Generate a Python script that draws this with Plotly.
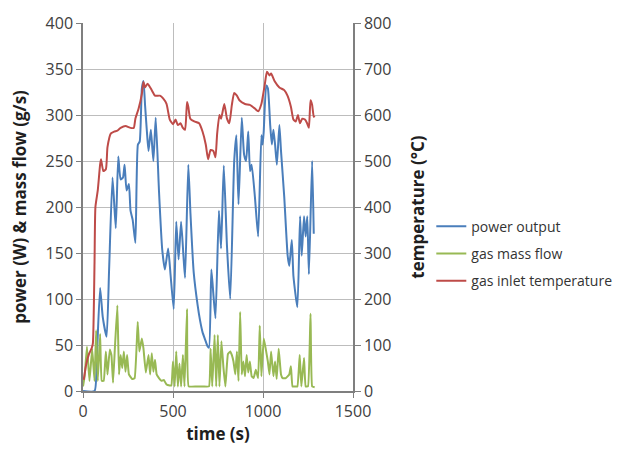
import plotly.graph_objects as go

# ---- data ----
power_t = [0, 64, 76, 95, 110, 131, 145, 164, 182, 196, 209, 222, 231, 242, 255, 264, 276, 291,
           305, 315, 327, 336, 345, 355, 364, 377, 391, 404, 422, 440, 455, 473, 487, 504, 518,
           531, 545, 558, 567, 585, 597, 615, 637, 650, 664, 680, 691, 700, 713, 724, 736, 755,
           767, 782, 800, 818, 840, 852, 864, 882, 895, 906, 918, 928, 937, 955, 973, 991, 998,
           1004, 1018, 1027, 1040, 1049, 1058, 1067, 1077, 1091, 1100, 1118, 1137, 1146, 1160,
           1169, 1191, 1206, 1215, 1228, 1237, 1246, 1255, 1273, 1282]
power_w = [0, 0, 33, 112, 80, 59, 132, 232, 177, 255, 230, 232, 246, 218, 225, 196, 186, 161,
           268, 271, 329, 337, 310, 282, 261, 284, 250, 297, 218, 154, 132, 155, 125, 89, 184,
           143, 184, 147, 123, 246, 193, 129, 93, 77, 64, 55, 49, 47, 132, 106, 79, 196,
           155, 245, 157, 100, 250, 278, 203, 297, 257, 250, 282, 239, 246, 211, 168, 278, 268,
           282, 332, 329, 289, 268, 284, 268, 246, 289, 261, 211, 147, 136, 164,
           125, 91, 190, 147, 190, 168, 190, 127, 250, 171]

flow_t = [0, 9, 22, 36, 51, 64, 73, 82, 95, 104, 115, 127, 136, 149, 158, 167, 178, 191, 200,
          209, 218, 227, 236, 245, 255, 273, 287, 304, 313, 327, 336, 349, 364, 373, 382, 391,
          400, 409, 422, 436, 449, 464, 482, 491, 500, 509, 518, 527, 536, 545, 555, 564, 578,
          587, 630, 669, 700, 709, 718, 731, 740, 749, 758, 769, 780, 791, 805, 818, 827, 836,
          846, 855, 864, 873, 882, 891, 900, 909, 918, 927, 937, 948, 960, 973, 982, 991, 1004,
          1015, 1027, 1036, 1045, 1058, 1067, 1076, 1087, 1100, 1109, 1127, 1146, 1155, 1164,
          1178, 1191, 1204, 1213, 1228, 1237, 1250, 1264, 1273, 1287]
flow_gs = [5, 16, 48, 11, 46, 11, 66, 11, 62, 11, 11, 43, 18, 45, 39, 9, 50, 93, 18,
           39, 25, 43, 21, 39, 18, 13, 14, 75, 43, 57, 46, 20, 39, 18, 41, 21,
           34, 18, 14, 11, 12, 7, 6, 6, 32, 5, 43, 5, 30, 5, 39, 5, 89,
           5, 5, 5, 5, 46, 5, 61, 5, 61, 5, 54, 26, 5, 40, 43, 39, 32,
           18, 43, 11, 86, 18, 32, 16, 39, 20, 32, 16, 14, 23, 14, 71, 16, 57,
           46, 32, 18, 43, 16, 32, 13, 46, 18, 14, 14, 18, 27, 5,
           5, 5, 39, 5, 36, 5, 5, 84, 5, 4]

temp_t = [4, 18, 33, 49, 55, 64, 69, 82, 95, 100, 113, 127, 136, 155, 173, 191, 209, 236, 264,
          282, 291, 309, 327, 336, 345, 358, 367, 382, 400, 427, 445, 464, 482, 500, 514, 527,
          542, 555, 567, 578, 585, 596, 618, 645, 664, 682, 695, 709, 724, 736, 745, 758, 767,
          785, 800, 813, 827, 840, 855, 869, 900, 927, 955, 973, 991, 1009, 1022, 1036, 1045,
          1064, 1091, 1118, 1136, 1155, 1169, 1182, 1194, 1205, 1218, 1233, 1245, 1255, 1264,
          1273, 1282, 1287]
temp_c = [24, 58, 80, 94, 104, 278, 400, 436, 492, 504, 478, 482, 530, 560, 564, 566, 572, 576,
          572, 572, 592, 614, 646, 672, 660, 668, 664, 654, 642, 642, 636, 624, 590, 580, 590,
          578, 582, 572, 568, 628, 618, 592, 586, 582, 564, 536, 504, 524, 522, 508, 558, 600,
          592, 624, 592, 582, 622, 648, 642, 632, 624, 622, 614, 608, 624, 664, 694, 686, 690,
          674, 660, 654, 642, 618, 590, 586, 600, 582, 592, 590, 582, 572, 632, 622, 596, 598]

names = ["power output", "gas mass flow", "gas inlet temperature"]
colors = ["#4A7EBB", "#98B954", "#BE4B48"]

FONT = "Open Sans"
TICKC = "#404040"
TITLEC = "#1F1F1F"

fig = go.Figure()
fig.add_trace(go.Scatter(x=power_t, y=power_w, mode="lines", name=names[0],
                         line=dict(color=colors[0], width=2, shape="spline", smoothing=0.5),
                         legendgroup="a"))
fig.add_trace(go.Scatter(x=flow_t, y=flow_gs, mode="lines", name=names[1],
                         line=dict(color=colors[1], width=2, shape="spline", smoothing=0.3),
                         legendgroup="b"))
fig.add_trace(go.Scatter(x=temp_t, y=temp_c, mode="lines", name=names[2], yaxis="y2",
                         line=dict(color=colors[2], width=2, shape="spline", smoothing=0.5),
                         legendgroup="c"))

fig.update_layout(
    width=629, height=456,
    margin=dict(l=83, r=272, t=17, b=65),
    paper_bgcolor="white", plot_bgcolor="white",
    font=dict(family=FONT, size=16, color=TICKC),
    showlegend=True,
    legend=dict(x=1.29, y=0.49, xanchor="left", yanchor="top",
                font=dict(family=FONT, size=14, color="#333"),
                itemwidth=30, tracegroupgap=6, bgcolor="rgba(0,0,0,0)"),
    xaxis=dict(range=[0, 1500], dtick=500, tick0=0,
               showgrid=True, gridcolor="#BDBDBD", gridwidth=1,
               showline=True, linecolor="#7F7F7F", linewidth=1.5,
               ticks="outside", ticklen=5, tickcolor="#7F7F7F",
               tickfont=dict(family=FONT, size=16, color=TICKC),
               zeroline=False,
               title=dict(text="<b>time (s)</b>", font=dict(family=FONT, size=17, color=TITLEC),
                          standoff=6)),
    yaxis=dict(range=[0, 400], dtick=50, tick0=0,
               showgrid=True, gridcolor="#BDBDBD", gridwidth=1,
               showline=True, linecolor="#7F7F7F", linewidth=1.5,
               ticks="outside", ticklen=5, tickcolor="#7F7F7F",
               tickfont=dict(family=FONT, size=16, color=TICKC),
               zeroline=False,
               title=dict(text="<b>power (W) & mass flow (g/s)</b>",
                          font=dict(family=FONT, size=17, color=TITLEC), standoff=15)),
    yaxis2=dict(range=[0, 800], dtick=100, tick0=0, overlaying="y", side="right",
                showgrid=False, showline=True, linecolor="#7F7F7F", linewidth=1.5,
                ticks="outside", ticklen=6, tickcolor="#7F7F7F",
                tickfont=dict(family=FONT, size=16, color=TICKC),
                zeroline=False,
                title=dict(text="<b>temperature (°C)</b>",
                           font=dict(family=FONT, size=17, color=TITLEC), standoff=22)),
)

fig.write_html("out.html")
